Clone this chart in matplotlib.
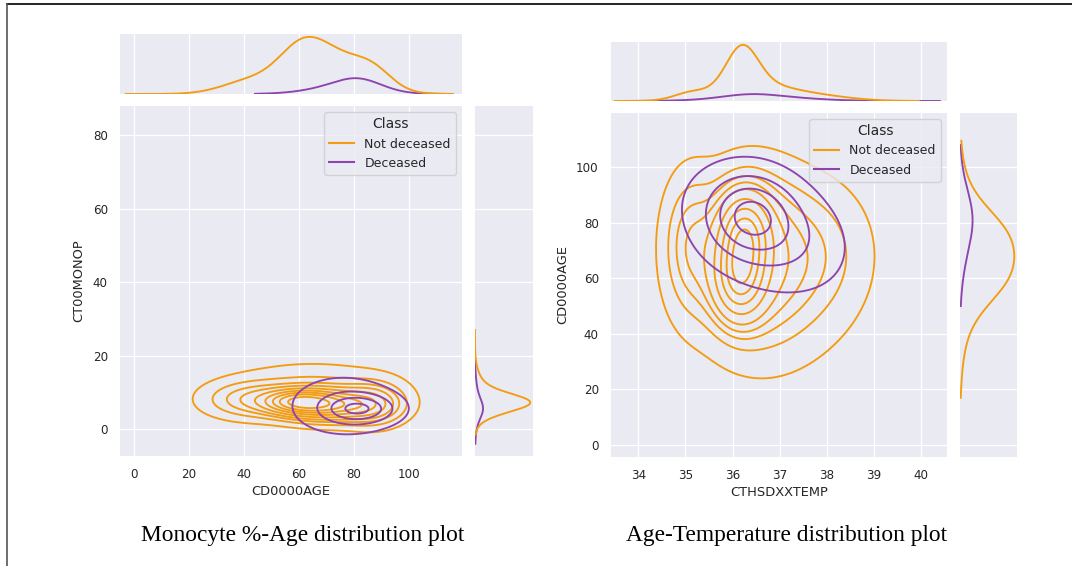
import numpy as np
import matplotlib.pyplot as plt
from matplotlib.lines import Line2D

W, H = 1072, 566

classes = ["Not deceased", "Deceased"]
class_colors = ["#F39C12", "#8E44AD"]

# ---- Panel 1: age (x) against monocyte % (y) ----
# density components: weight, mean x, mean y, sd x, sd y, correlation
age_mono_share = [0.85, 0.15]
age_mono_not_deceased = [
    (0.22, 60.0, 7.5, 8.0, 2.0, 0.0),
    (0.38, 71.0, 6.5, 11.0, 2.6, 0.0),
    (0.12, 42.0, 8.0, 10.0, 3.0, 0.0),
    (0.13, 87.0, 7.0, 7.0, 3.5, 0.0),
    (0.15, 65.0, 11.0, 17.0, 4.0, 0.0),
]
age_mono_deceased = [
    (0.45, 82.0, 5.5, 8.0, 2.5, 0.0),
    (0.55, 76.0, 6.5, 12.0, 5.0, 0.0),
]
age_mono_xsupport = [(-3, 116), (44, 116)]
age_mono_ysupport = [(-1.5, 27), (-4, 19)]
age_mono_xlim = (-5.1, 119.3)
age_mono_ylim = (-7.3, 87.9)
age_mono_xticks = [0, 20, 40, 60, 80, 100]
age_mono_yticks = [0, 20, 40, 60, 80]

# ---- Panel 2: temperature (x) against age (y) ----
temp_age_share = [0.85, 0.15]
temp_age_not_deceased = [
    (0.21, 36.15, 60.0, 0.33, 9.0, 0.0),
    (0.21, 36.25, 76.0, 0.33, 9.0, 0.0),
    (0.30, 36.4, 68.0, 0.70, 17.0, 0.0),
    (0.14, 36.9, 60.0, 1.00, 20.0, 0.0),
    (0.07, 37.8, 70.0, 0.70, 15.0, 0.0),
    (0.07, 35.1, 72.0, 0.35, 15.0, 0.0),
]
temp_age_deceased = [
    (0.30, 36.35, 83.0, 0.55, 9.0, 0.0),
    (0.70, 36.7, 78.0, 0.95, 13.0, -0.3),
]
temp_age_xsupport = [(33.5, 39.95), (33.6, 40.4)]
temp_age_ysupport = [(17, 109.5), (50, 108)]
temp_age_xlim = (33.42, 40.55)
temp_age_ylim = (-4.3, 119.5)
temp_age_xticks = [34, 35, 36, 37, 38, 39, 40]
temp_age_yticks = [0, 20, 40, 60, 80, 100]

BG = "#EAEAF2"
TXT = "0.15"
plt.rcParams.update({
    "font.family": ["DejaVu Sans"],
    "axes.facecolor": BG,
    "axes.grid": True,
    "axes.axisbelow": True,
    "grid.color": "white",
    "grid.linewidth": 0.9,
    "text.color": TXT,
    "axes.labelcolor": TXT,
    "xtick.color": TXT,
    "ytick.color": TXT,
    "xtick.labelsize": 8.6,
    "ytick.labelsize": 8.6,
    "axes.labelsize": 9.4,
})


def gauss1(v, m, s):
    return np.exp(-0.5 * ((v - m) / s) ** 2) / (s * np.sqrt(2 * np.pi))


def mix_pdf2(X, Y, comps):
    Z = np.zeros_like(X)
    for w, mx, my, sx, sy, r in comps:
        dx = (X - mx) / sx
        dy = (Y - my) / sy
        q = (dx ** 2 - 2 * r * dx * dy + dy ** 2) / (1 - r ** 2)
        Z += w * np.exp(-0.5 * q) / (2 * np.pi * sx * sy * np.sqrt(1 - r ** 2))
    return Z


def mix_marg(v, comps, axis):
    out = np.zeros_like(v)
    for c in comps:
        out += c[0] * gauss1(v, c[1 + axis], c[3 + axis])
    return out


def iso_levels(arrays, props):
    values = np.concatenate([a.ravel() for a in arrays])
    sv = np.sort(values)[::-1]
    cum = np.cumsum(sv) / values.sum()
    idx = np.searchsorted(cum, 1 - np.asarray(props))
    return np.take(sv, idx, mode="clip")


def rect(x0, y0, x1, y1):
    return [x0 / W, 1 - y1 / H, (x1 - x0) / W, (y1 - y0) / H]


def joint_panel(fig, main_px, top_px, side_px, comps_list, shares,
                xsup, ysup, xlim, ylim, xticks, yticks, xlabel, ylabel):
    ax = fig.add_axes(rect(*main_px))
    axt = fig.add_axes(rect(*top_px), sharex=ax)
    axr = fig.add_axes(rect(*side_px), sharey=ax)
    for a in (ax, axt, axr):
        for sp in a.spines.values():
            sp.set_visible(False)
        a.tick_params(length=0)

    xs = np.linspace(xlim[0], xlim[1], 300)
    ys = np.linspace(ylim[0], ylim[1], 300)
    X, Y = np.meshgrid(xs, ys)
    dens = [sh * mix_pdf2(X, Y, c) for c, sh in zip(comps_list, shares)]
    levels = np.unique(iso_levels(dens, np.linspace(0.05, 1, 10))[:-1])
    for Z, col in zip(dens, class_colors):
        ax.contour(X, Y, Z, levels=levels, colors=[col], linewidths=1.35)

    tmax = 0
    rmax = 0
    for i in (1, 0):
        c, sh, col = comps_list[i], shares[i], class_colors[i]
        xv = np.linspace(*xsup[i], 400)
        dx = sh * mix_marg(xv, c, 0)
        axt.plot(xv, dx, color=col, lw=1.35)
        yv = np.linspace(*ysup[i], 400)
        dy = sh * mix_marg(yv, c, 1)
        axr.plot(dy, yv, color=col, lw=1.35)
        tmax = max(tmax, dx.max())
        rmax = max(rmax, dy.max())
    axt.set_ylim(0, tmax * 1.05)
    axr.set_xlim(0, rmax * 1.05)

    ax.set_xlim(*xlim)
    ax.set_ylim(*ylim)
    ax.set_xticks(xticks)
    ax.set_yticks(yticks)
    ax.tick_params(axis="both", pad=8.8)
    ax.set_xlabel(xlabel, labelpad=3)
    ax.set_ylabel(ylabel, labelpad=5)

    axt.yaxis.grid(False)
    axr.xaxis.grid(False)
    axt.tick_params(labelbottom=False, labelleft=False)
    axr.tick_params(labelbottom=False, labelleft=False)

    handles = [Line2D([], [], color=col, lw=1.5) for col in class_colors]
    ax.legend(handles, classes, title="Class", loc="upper right",
              fontsize=9.0, title_fontsize=10.0, facecolor=BG,
              edgecolor="0.8", framealpha=0.8)
    return ax


fig = plt.figure(figsize=(W / 100, H / 100), dpi=100)

joint_panel(fig, (120, 106, 462, 456), (120, 34, 462, 94), (475, 106, 533, 456),
            [age_mono_not_deceased, age_mono_deceased], age_mono_share,
            age_mono_xsupport, age_mono_ysupport, age_mono_xlim, age_mono_ylim,
            age_mono_xticks, age_mono_yticks, "CD0000AGE", "CT00MONOP")

joint_panel(fig, (611, 113, 947, 457), (611, 42, 947, 101), (960, 113, 1017, 457),
            [temp_age_not_deceased, temp_age_deceased], temp_age_share,
            temp_age_xsupport, temp_age_ysupport, temp_age_xlim, temp_age_ylim,
            temp_age_xticks, temp_age_yticks, "CTHSDXXTEMP", "CD0000AGE")

cap_font = dict(family=["Liberation Serif", "DejaVu Serif"], size=16.8,
                color="black", ha="center", va="baseline")
fig.text(302.5 / W, 1 - 541.5 / H, "Monocyte %-Age distribution plot", **cap_font)
fig.text(786.5 / W, 1 - 541.5 / H, "Age-Temperature distribution plot", **cap_font)

# frame around the figure
fig.add_artist(Line2D([7 / W, 1], [1 - 4 / H, 1 - 4 / H], color="black", lw=1.2))
fig.add_artist(Line2D([7 / W, 7 / W], [0, 1 - 4 / H], color="#555555", lw=1.2))

fig.savefig("out.png", dpi=100)
